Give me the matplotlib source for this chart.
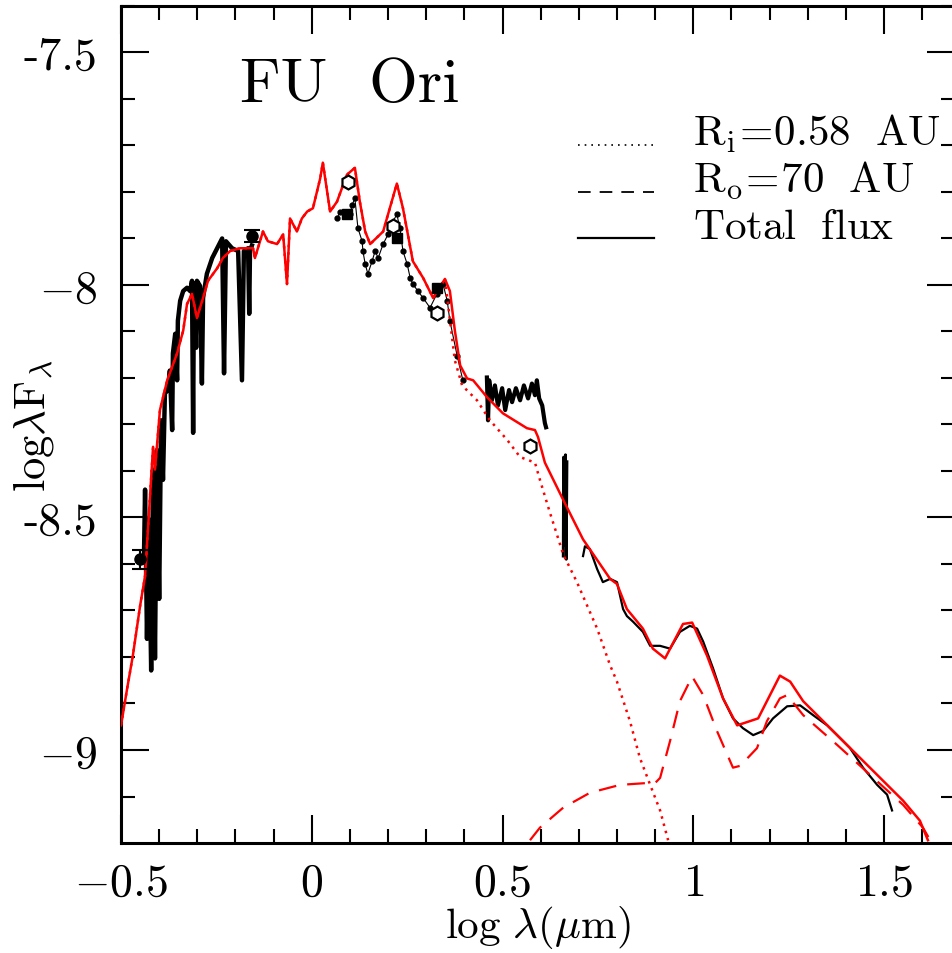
import matplotlib
matplotlib.use("Agg")
import matplotlib.pyplot as plt

plt.rcParams['font.family'] = 'cmr10'
plt.rcParams['mathtext.fontset'] = 'cm'
plt.rcParams['axes.unicode_minus'] = False

# --- model SED (red) ---
total_x = [-0.5, -0.484, -0.469, -0.450, -0.437, -0.416, -0.411, -0.398, -0.379, -0.353,
           -0.337, -0.327, -0.314, -0.301, -0.285, -0.272, -0.248, -0.233, -0.214, -0.188,
           -0.154, -0.149, -0.128, -0.115, -0.091, -0.075, -0.065, -0.057, -0.039, -0.026,
           -0.012, 0.003, 0.022, 0.029, 0.048, 0.066, 0.092, 0.113, 0.126, 0.140,
           0.153, 0.187, 0.223, 0.239, 0.265, 0.292, 0.318,
           0.349, 0.362, 0.375, 0.389, 0.407, 0.423, 0.459, 0.501, 0.564, 0.585,
           0.593, 0.611, 0.659, 0.711, 0.782, 0.800, 0.826, 0.868, 0.894, 0.926,
           0.973, 0.997, 1.036, 1.078, 1.115, 1.170, 1.227, 1.254, 1.288, 1.377,
           1.463, 1.550, 1.594, 1.615]
total_y = [-8.947, -8.868, -8.797, -8.690, -8.626, -8.348, -8.397, -8.269, -8.205, -8.147,
           -8.098, -8.041, -8.019, -8.071, -8.028, -7.991, -7.964, -7.942, -7.927, -7.921,
           -7.921, -7.942, -7.885, -7.906, -7.912, -7.891, -7.998, -7.857, -7.885, -7.857,
           -7.842, -7.835, -7.771, -7.737, -7.842, -7.821, -7.763, -7.748, -7.821, -7.885,
           -7.912, -7.885, -7.782, -7.835, -7.949, -7.985, -8.028,
           -7.987, -8.013, -8.098, -8.173, -8.201, -8.205, -8.241, -8.276, -8.308, -8.312,
           -8.327, -8.382, -8.462, -8.547, -8.632, -8.643, -8.697, -8.739, -8.782, -8.803,
           -8.729, -8.726, -8.797, -8.889, -8.947, -8.932, -8.840, -8.853, -8.895, -8.968,
           -9.038, -9.109, -9.152, -9.194]

# inner disk follows the total at short wavelengths
n_shared = 48
inner_x = total_x[:n_shared] + [0.375, 0.394, 0.433, 0.467, 0.512, 0.546, 0.585, 0.598, 0.624,
                                0.659, 0.695, 0.748, 0.782, 0.800, 0.834, 0.860, 0.887, 0.913, 0.934]
inner_y = total_y[:n_shared] + [-8.162, -8.216, -8.248, -8.291, -8.333, -8.370, -8.382, -8.419, -8.489,
                                -8.579, -8.639, -8.739, -8.818, -8.853, -8.938, -9.017, -9.075, -9.130, -9.194]

outer_x = [0.572, 0.598, 0.659, 0.729, 0.808, 0.879, 0.900, 0.913, 0.939, 0.965, 0.997,
           1.026, 1.062, 1.104, 1.123, 1.167, 1.193, 1.227, 1.246, 1.288, 1.377, 1.463,
           1.550, 1.602, 1.621]
outer_y = [-9.194, -9.167, -9.124, -9.092, -9.075, -9.071, -9.071, -9.060, -8.981, -8.895, -8.842,
           -8.882, -8.959, -9.038, -9.034, -8.996, -8.938, -8.889, -8.882, -8.925, -8.989, -9.053,
           -9.118, -9.167, -9.194]

# --- observed data (black) ---
opt_x = [-0.440, -0.437, -0.432, -0.427, -0.421, -0.416, -0.411, -0.406, -0.400, -0.395,
         -0.390, -0.385, -0.377, -0.372, -0.366, -0.364, -0.358, -0.353, -0.351, -0.345,
         -0.337, -0.327, -0.319, -0.314, -0.311, -0.309, -0.303, -0.301, -0.293, -0.288,
         -0.285, -0.275, -0.261, -0.248, -0.235, -0.230, -0.225, -0.209, -0.193, -0.183,
         -0.178, -0.167, -0.164, -0.162, -0.157]
opt_y = [-8.590, -8.440, -8.761, -8.504, -8.829, -8.397, -8.803, -8.355, -8.675, -8.291,
         -8.419, -8.233, -8.226, -8.184, -8.312, -8.147, -8.105, -8.205, -8.077, -8.034,
         -8.013, -8.006, -8.013, -7.991, -8.318, -7.996, -8.135, -7.991, -8.002, -8.212,
         -8.028, -7.976, -7.942, -7.921, -7.900, -8.190, -7.906, -7.921, -7.927, -8.205,
         -7.927, -7.921, -8.062, -7.927, -7.915]

lowres_x = [0.066, 0.074, 0.087, 0.100, 0.106, 0.113, 0.121, 0.132, 0.134, 0.140, 0.147,
            0.158, 0.166, 0.174, 0.187, 0.200, 0.210, 0.223, 0.231, 0.239, 0.250, 0.258,
            0.265, 0.278, 0.292, 0.310, 0.328, 0.344, 0.355, 0.362, 0.381, 0.396]
lowres_y = [-7.857, -7.842, -7.846, -7.848, -7.827, -7.814, -7.878, -7.906, -7.927, -7.955, -7.976,
            -7.949, -7.927, -7.942, -7.912, -7.891, -7.868, -7.848, -7.878, -7.927, -7.955, -7.985,
            -7.998, -8.013, -8.028, -8.049, -8.019, -7.998, -8.034, -8.077, -8.152, -8.205]

nir_x = [0.459, 0.462, 0.465, 0.472, 0.480, 0.488, 0.499, 0.507, 0.517, 0.525, 0.535,
         0.546, 0.556, 0.567, 0.577, 0.585, 0.590, 0.596, 0.604, 0.611, 0.614]
nir_y = [-8.199, -8.291, -8.205, -8.248, -8.216, -8.259, -8.222, -8.269, -8.226, -8.252, -8.222,
         -8.248, -8.216, -8.244, -8.212, -8.237, -8.205, -8.244, -8.259, -8.297, -8.306]

spike_x = [0.659, 0.660, 0.662, 0.665, 0.667, 0.669]
spike_y = [-8.583, -8.370, -8.560, -8.365, -8.590, -8.380]

irs_x = [0.711, 0.716, 0.729, 0.748, 0.763, 0.782, 0.800, 0.816, 0.826, 0.842, 0.868,
         0.887, 0.913, 0.939, 0.965, 0.991, 1.010, 1.026, 1.052, 1.078, 1.104, 1.130,
         1.157, 1.183, 1.209, 1.246, 1.280, 1.314, 1.351, 1.377, 1.411, 1.445, 1.482,
         1.508, 1.521]
irs_y = [-8.583, -8.562, -8.568, -8.611, -8.639, -8.632, -8.639, -8.697, -8.712, -8.724, -8.746,
         -8.776, -8.776, -8.782, -8.746, -8.733, -8.739, -8.767, -8.825, -8.889, -8.932, -8.953,
         -8.968, -8.959, -8.932, -8.906, -8.904, -8.925, -8.947, -8.968, -8.996, -9.038, -9.075,
         -9.096, -9.130]

# photometry
circ_x = [-0.450, -0.157]
circ_y = [-8.590, -7.895]
circ_err = [0.02, 0.013]
hex_x = [0.095, 0.213, 0.328, 0.572]
hex_y = [-7.778, -7.874, -8.060, -8.346]
sq_x = [0.092, 0.223, 0.328]
sq_y = [-7.848, -7.900, -8.006]

fig = plt.figure(figsize=(9.53, 9.54), dpi=100)
ax = fig.add_axes([0.127, 0.1153, 0.8747, 0.8774])

red = '#ff0000'
ax.plot(opt_x, opt_y, color='black', lw=3.2, zorder=2)
ax.plot(lowres_x, lowres_y, color='black', lw=0.8, marker='o', ms=3.5, zorder=2)
ax.plot(nir_x, nir_y, color='black', lw=3.0, zorder=2)
ax.plot(spike_x, spike_y, color='black', lw=2.0, zorder=2)
ax.plot(irs_x, irs_y, color='black', lw=1.6, zorder=2)

ax.errorbar(circ_x, circ_y, yerr=circ_err, fmt='o', color='black', ms=8, capsize=6, elinewidth=1.5, capthick=1.5, zorder=4)
ax.plot(hex_x, hex_y, ls='none', marker='h', ms=10, mfc='white', mec='black', mew=1.6, zorder=4)
ax.plot(sq_x, sq_y, ls='none', marker='s', ms=7, color='black', zorder=4)

ax.plot(inner_x, inner_y, color=red, lw=1.8, ls=(0, (1, 2)), zorder=3)
ax.plot(outer_x, outer_y, color=red, lw=1.6, ls=(0, (8, 5)), zorder=3)
ax.plot(total_x, total_y, color=red, lw=1.8, zorder=3)

ax.set_xlim(-0.5, 1.685)
ax.set_ylim(-9.2, -7.4)

ax.set_xticks([-0.5, 0, 0.5, 1, 1.5])
ax.set_xticklabels(['$-0.5$', '$0$', '$0.5$', '$1$', '$1.5$'])
ax.set_xticks([x / 10 for x in range(-4, 17) if x % 5 != 0], minor=True)
ax.set_yticks([-7.5, -8, -8.5, -9])
ax.set_yticklabels(['-7.5', '$-8$', '-8.5', '$-9$'])
ax.set_yticks([-7.4, -7.6, -7.7, -7.8, -7.9, -8.1, -8.2, -8.3, -8.4, -8.6, -8.7, -8.8, -8.9, -9.1], minor=True)

ax.tick_params(which='both', direction='in', top=True, right=True, width=1.5, labelsize=33)
ax.tick_params(which='major', length=20)
ax.tick_params(which='minor', length=10)
ax.tick_params(axis='y', pad=17)
ax.tick_params(axis='x', pad=14)
for s in ax.spines.values():
    s.set_linewidth(2.2)

ax.set_xlabel(r'$\mathrm{log}\ \lambda(\mu\mathrm{m})$', fontsize=31)
ax.set_ylabel(r'$\mathrm{log}\lambda \mathrm{F}_\lambda$', fontsize=32)
ax.xaxis.set_label_coords(0.5, -0.072)
ax.yaxis.set_label_coords(-0.078, 0.5)

ax.text(0.143, 0.886, 'FU  Ori', transform=ax.transAxes, fontsize=45, va='baseline')

leg_rows = [(0.834, (0, (1, 3)), 1.2, r'$\mathrm{R_i\!=\!0.58\ \ AU}$'),
            (0.778, (0, (7, 5)), 1.3, r'$\mathrm{R_o\!=\!70\ \ AU}$'),
            (0.723, '-', 1.6, r'$\mathrm{Total\ \ flux}$')]
for yy, ls, lw, lab in leg_rows:
    ax.plot([0.548, 0.639], [yy, yy], transform=ax.transAxes, color='black', ls=ls, lw=lw)
    ax.text(0.686, yy, lab, transform=ax.transAxes, fontsize=31, va='baseline')

fig.savefig('out.png', dpi=100)
